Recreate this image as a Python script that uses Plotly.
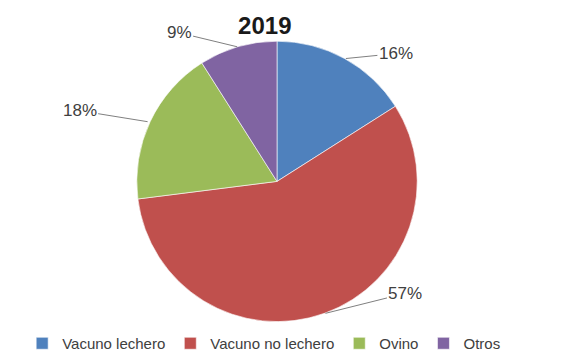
import math
import plotly.graph_objects as go

# Emission shares by livestock category, 2019
categorias = ["Vacuno lechero", "Vacuno no lechero", "Ovino", "Otros"]
porcentajes = [16, 57, 18, 9]
colores = ["#4F81BD", "#C0504D", "#9BBB59", "#8064A2"]

# Offsets (px) of each outside label relative to its slice edge point
label_dx = [50, 80, -68, -58]
label_dy = [-5, -20, -11, -14]

W, H = 561, 360
cx, cy, r = 277, 185, 143  # pie centre and radius in pixels

fig = go.Figure()
fig.add_trace(go.Pie(
    labels=categorias,
    values=porcentajes,
    marker=dict(colors=colores, line=dict(color="rgba(255,255,255,0.6)", width=1)),
    sort=False,
    direction="clockwise",
    rotation=0,
    textinfo="none",
    hoverinfo="label+percent",
    domain=dict(x=[(cx - r) / W, (cx + r) / W], y=[(H - cy - r) / H, (H - cy + r) / H]),
))

# Outside percentage labels with leader lines at each slice's mid-angle
total = sum(porcentajes)
acum = 0
annotations = []
for v, dx, dy in zip(porcentajes, label_dx, label_dy):
    mid = (acum + v / 2) / total * 2 * math.pi
    acum += v
    px = cx + r * math.sin(mid)
    py = cy - r * math.cos(mid)
    annotations.append(dict(
        x=px / W, y=1 - py / H, xref="paper", yref="paper",
        text=f"{round(v / total * 100)}%",
        showarrow=True, arrowhead=0, arrowwidth=1, arrowcolor="#808080",
        standoff=0, ax=dx, ay=dy,
        font=dict(family="Liberation Sans, Arial, sans-serif", size=17, color="#404040"),
    ))

fig.update_layout(
    width=W, height=H,
    margin=dict(l=0, r=0, t=0, b=0),
    paper_bgcolor="white", plot_bgcolor="white",
    title=dict(text="<b>2019</b>", x=0.472, xanchor="center", y=0.93, yanchor="middle",
               font=dict(family="Liberation Sans, Arial, sans-serif", size=24, color="#1a1a1a")),
    showlegend=True,
    legend=dict(orientation="h", x=0.47, xanchor="center", y=-0.02, yanchor="bottom",
                font=dict(family="Liberation Sans, Arial, sans-serif", size=15, color="#404040"),
                itemwidth=30, traceorder="normal"),
    annotations=annotations,
)

fig.write_html("out.html")
